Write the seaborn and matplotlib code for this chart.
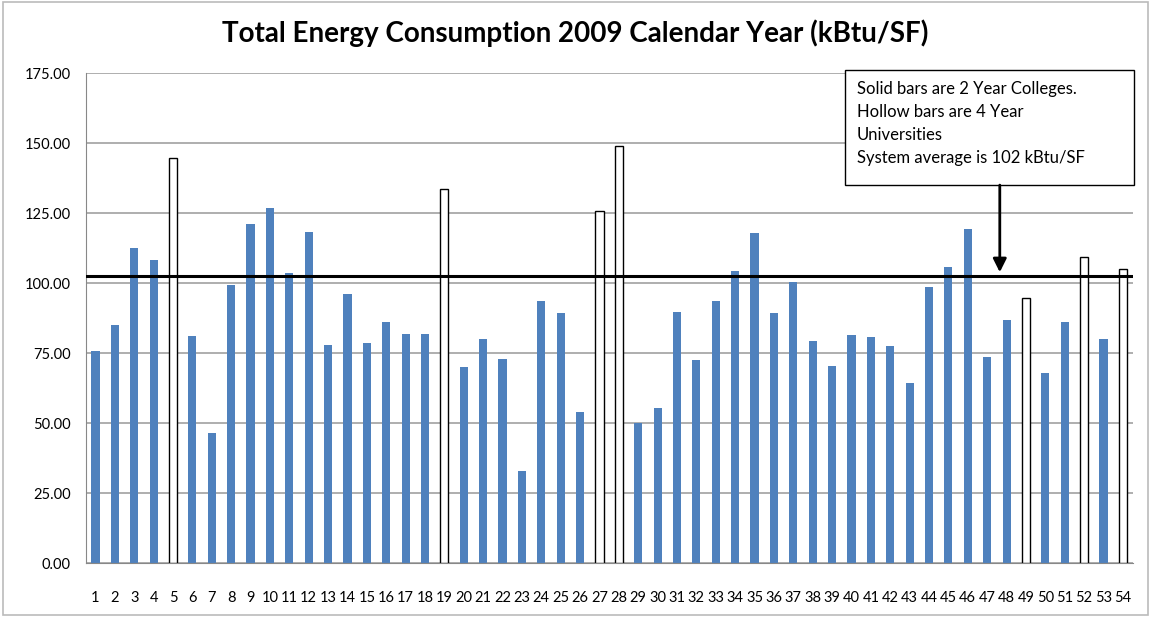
import numpy as np
import pandas as pd
import matplotlib.pyplot as plt
import seaborn as sns
from matplotlib.patches import Rectangle

# campus numbers 1..54 and their 2009 energy use intensity (kBtu/SF)
campus = [str(i) for i in range(1, 55)]
kbtu_sf = [
    75.7, 85.2, 112.7, 108.1, 144.6, 81.2, 46.4, 99.5, 121.0, 126.8,
    103.6, 118.1, 78.0, 96.2, 78.8, 86.2, 82.0, 81.7, 133.5, 70.2,
    80.2, 73.0, 33.1, 93.5, 89.4, 54.1, 125.8, 149.1, 50.2, 55.6,
    89.8, 72.5, 93.5, 104.2, 117.8, 89.5, 100.4, 79.3, 70.6, 81.5,
    80.9, 77.5, 64.3, 98.5, 105.9, 119.5, 73.8, 87.0, 94.7, 68.0,
    86.2, 109.3, 79.9, 105.2,
]
# hollow bars = 4 year universities
universities = ['5', '19', '27', '28', '49', '52', '54']
kind = ['4 Year University' if c in universities else '2 Year College' for c in campus]
system_avg = 102.5

df = pd.DataFrame({'campus': campus, 'kbtu': kbtu_sf, 'kind': kind})

sns.set_style('white')
plt.rcParams['font.family'] = ['Lato', 'DejaVu Sans']
plt.rcParams['text.color'] = 'black'
plt.rcParams['xtick.labelcolor'] = 'black'
plt.rcParams['ytick.labelcolor'] = 'black'

fig = plt.figure(figsize=(11.51, 6.19), dpi=100)
ax = fig.add_axes([0.0745, 0.0900, 0.9095, 0.7920])

sns.barplot(data=df, x='campus', y='kbtu', hue='kind', order=campus,
            hue_order=['2 Year College', '4 Year University'],
            palette={'2 Year College': '#4F81BD', '4 Year University': 'white'},
            saturation=1, dodge=False, width=0.42, legend=False, ax=ax)

# outline the university bars
for bar in ax.containers[1]:
    bar.set_edgecolor('black')
    bar.set_linewidth(1.0)
for bar in ax.containers[0]:
    bar.set_linewidth(0)

ax.axhline(system_avg, color='black', lw=2.2, zorder=3)

ax.set_ylim(0, 175)
ax.set_xlim(-0.5, len(campus) - 0.5)
ax.set_yticks(np.arange(0, 176, 25))
ax.set_yticklabels([f'{v:.2f}' for v in np.arange(0, 176, 25)], fontsize=10.5)
ax.yaxis.grid(True, color='#999999', lw=1.1)
ax.set_axisbelow(True)

# excel style: tick marks between categories
ax.set_xticks(np.arange(-0.5, len(campus), 1), minor=True)
ax.tick_params(axis='x', which='major', length=0, pad=20, labelsize=10.5)
ax.tick_params(axis='x', which='minor', length=4, color='#888888', width=1, direction='out')
ax.tick_params(axis='y', length=5, color='#888888', direction='out', pad=6)
ax.set_xlabel('')
ax.set_ylabel('')

sns.despine(ax=ax, top=True, right=True)
ax.spines['left'].set_color('#888888')
ax.spines['bottom'].set_color('#888888')

fig.suptitle('Total Energy Consumption 2009 Calendar Year (kBtu/SF)',
             fontsize=20, fontweight='bold', x=0.5, y=0.968, color='black')

# note box with arrow to the average line
ax.add_patch(Rectangle((38.66, 135.0), 14.9, 41.0, facecolor='white',
                       edgecolor='black', lw=1.0, clip_on=False, zorder=5))
ax.text(39.28, 172.3,
        'Solid bars are 2 Year Colleges.\nHollow bars are 4 Year\nUniversities\nSystem average is 102 kBtu/SF',
        fontsize=12, va='top', ha='left', linespacing=1.55, zorder=6, color='black')
ax.annotate('', xy=(46.65, 103.9), xytext=(46.65, 135.0),
            arrowprops=dict(arrowstyle='-|>', color='black', lw=2,
                            mutation_scale=20, shrinkA=0, shrinkB=0),
            zorder=6)

# light frame round the chart area
fig.patches.append(Rectangle((0.003, 0.006), 0.994, 0.99, transform=fig.transFigure,
                             fill=False, edgecolor='#bbbbbb', lw=1.2))

fig.savefig('out.png', dpi=100)
